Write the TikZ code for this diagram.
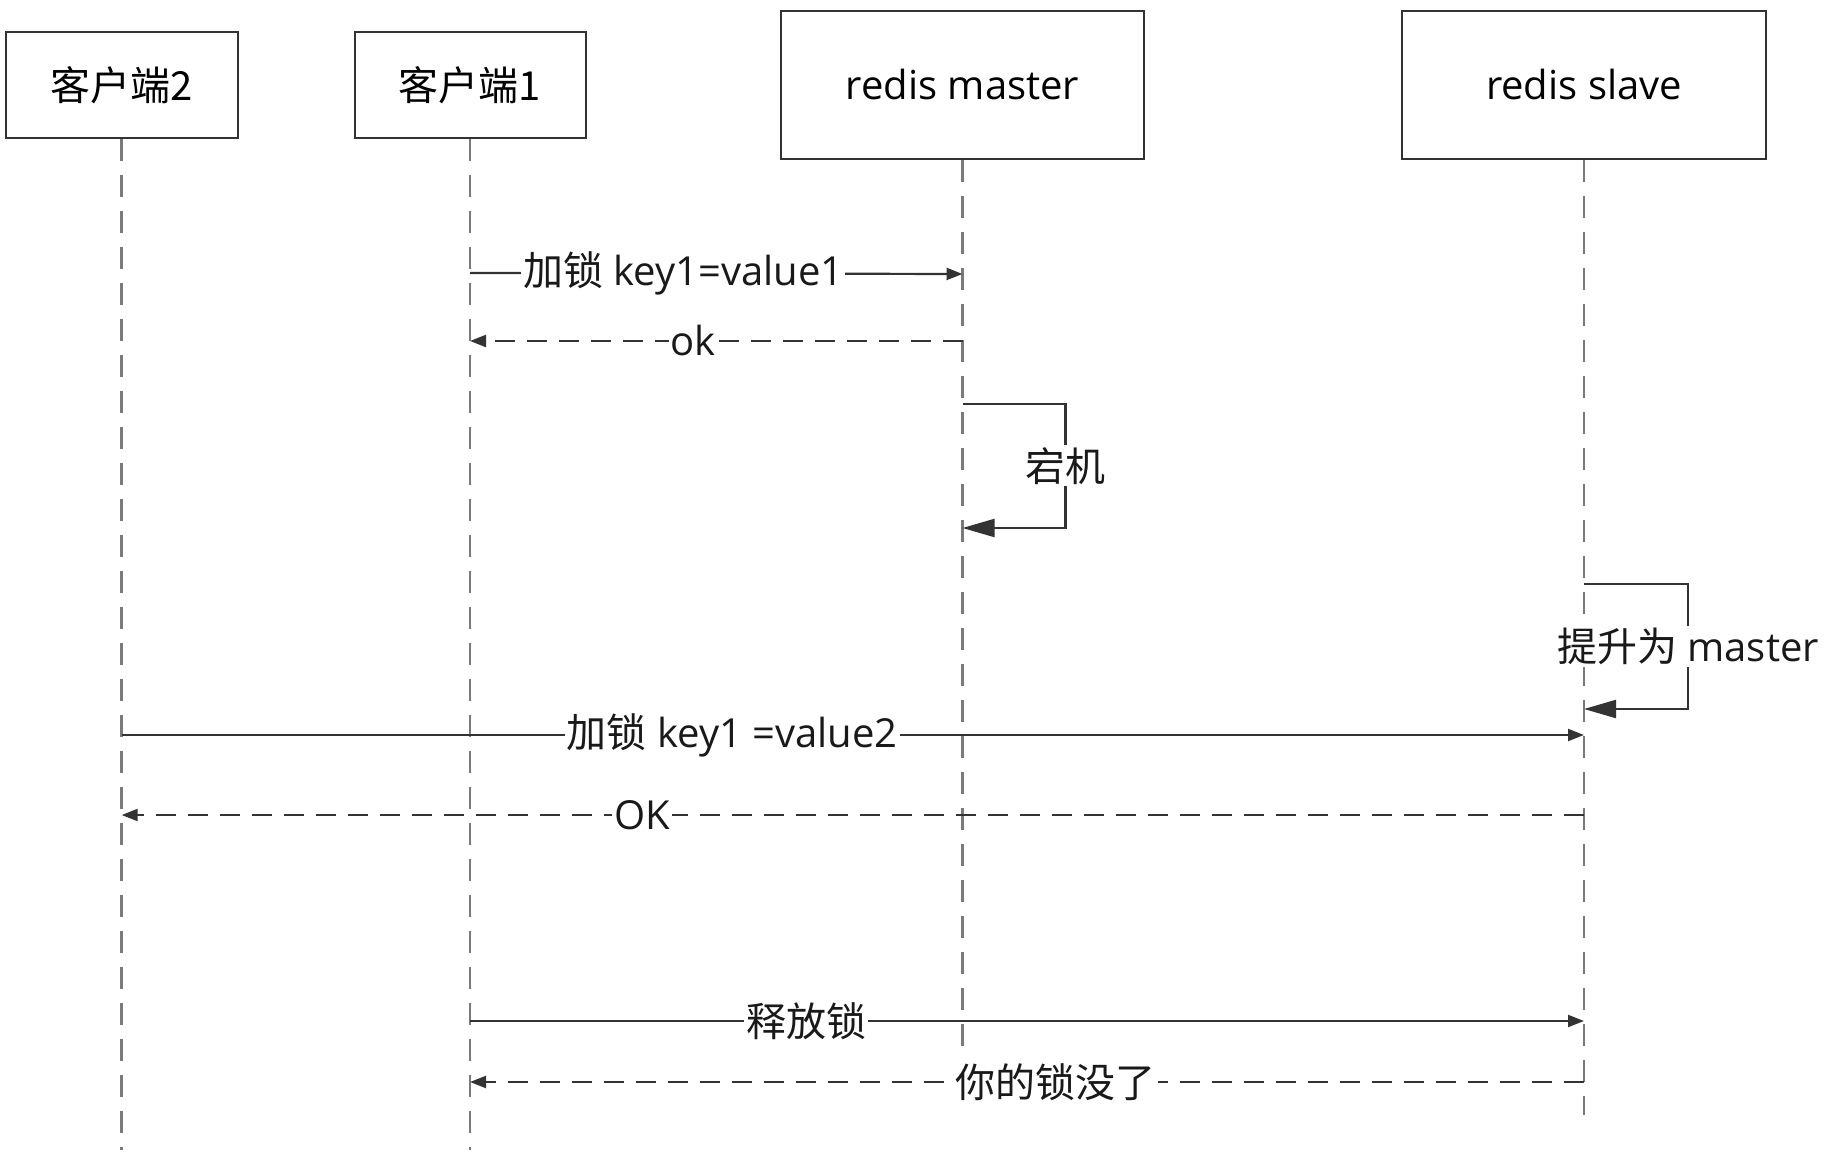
\documentclass[tikz,border=0pt]{standalone}
\usepackage{fontspec}
\setmainfont{Open Sans}
\newfontfamily\cjk{Noto Sans CJK SC}
\usetikzlibrary{arrows.meta}

\definecolor{borde}{HTML}{333333}
\definecolor{linea}{HTML}{7A7A7A}

\tikzset{
  participante/.style={draw=borde, fill=white, line width=1pt, inner sep=0pt, font=\fontsize{20}{24}\selectfont},
  vida/.style={draw=linea, line width=1.4pt, dash pattern=on 11pt off 7pt},
  mensaje/.style={draw=borde, line width=1.1pt, -{Triangle[length=8pt,width=6pt]}},
  respuesta/.style={mensaje, dash pattern=on 10pt off 6pt},
  propio/.style={draw=borde, line width=1.1pt, -{Triangle[length=16pt,width=9pt]}},
  etiqueta/.style={fill=white, inner sep=1pt, text=black!90, font=\fontsize{20}{24}\selectfont},
}

\begin{document}
\begin{tikzpicture}[x=0.5pt, y=-0.5pt]
\useasboundingbox (0,0) rectangle (1826,1160);

% Participantes
\node[participante, minimum width=116pt, minimum height=52.8pt] (c2) at (121.7,85) {\cjk 客户端2};
\node[participante, minimum width=115.5pt, minimum height=52.8pt] (c1) at (470,85) {\cjk 客户端1};
\node[participante, minimum width=181.5pt, minimum height=74pt] (master) at (962.5,85) {redis master};
\node[participante, minimum width=182pt, minimum height=74pt] (slave) at (1584,85) {redis slave};

% Lineas de vida
\coordinate (c2fin) at (121.7,1150);
\coordinate (c1fin) at (470,1150);
\coordinate (masterfin) at (962.5,1046);
\coordinate (slavefin) at (1584,1115);
\draw[vida] (c2) -- (c2fin);
\draw[vida] (c1) -- (c1fin);
\draw[vida] (master) -- (masterfin);
\draw[vida] (slave) -- (slavefin);

% Cliente 1 bloquea en el master
\coordinate (lock1a) at (c1 |- 0,273);
\coordinate (lock1b) at (master |- 0,274);
\draw[mensaje] (lock1a) -- node[etiqueta, pos=0.433] {{\cjk 加锁} key1=value1} (lock1b);
\coordinate (ok1a) at (master |- 0,341);
\coordinate (ok1b) at (c1 |- 0,341);
\draw[respuesta] (ok1a) -- node[etiqueta, pos=0.547] {ok} (ok1b);

% Caida del master
\coordinate (caida1) at (master |- 0,404);
\coordinate (caida2) at (master |- 0,528);
\draw[propio] (caida1) -- ++(103,0) |- node[etiqueta, pos=0.25] {\cjk 宕机} (caida2);

% El slave pasa a master
\coordinate (promo1) at (slave |- 0,584);
\coordinate (promo2) at (slave |- 0,709);
\draw[propio] (promo1) -- ++(104,0) |- node[etiqueta, pos=0.25] {{\cjk 提升为} master} (promo2);

% Cliente 2 bloquea en el nuevo master
\coordinate (lock2a) at (c2 |- 0,735);
\coordinate (lock2b) at (slave |- 0,735);
\draw[mensaje] (lock2a) -- node[etiqueta, pos=0.4175] {{\cjk 加锁} key1 =value2} (lock2b);
\coordinate (ok2a) at (slave |- 0,815);
\coordinate (ok2b) at (c2 |- 0,815);
\draw[respuesta] (ok2a) -- node[etiqueta, pos=0.644] {OK} (ok2b);

% Cliente 1 libera el bloqueo
\coordinate (libera1) at (c1 |- 0,1021);
\coordinate (libera2) at (slave |- 0,1021);
\draw[mensaje] (libera1) -- node[etiqueta, pos=0.302] {\cjk 释放锁} (libera2);
\coordinate (perdido1) at (slave |- 0,1082);
\coordinate (perdido2) at (c1 |- 0,1082);
\draw[respuesta] (perdido1) -- node[etiqueta, pos=0.474] {\cjk 你的锁没了} (perdido2);

\end{tikzpicture}
\end{document}
